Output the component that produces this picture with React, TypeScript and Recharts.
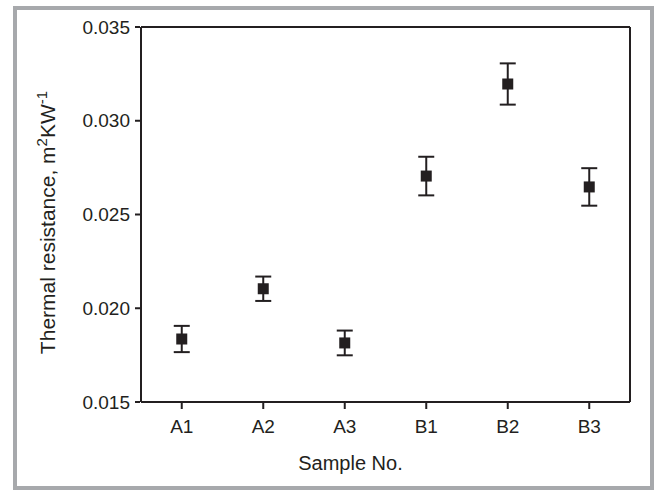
import React from 'react';
import { ScatterChart, Scatter, XAxis, YAxis, ErrorBar } from 'recharts';

const categories = ['A1', 'A2', 'A3', 'B1', 'B2', 'B3'];
const resistance = [0.01836, 0.02104, 0.01815, 0.02705, 0.03196, 0.02647];
const errors = [0.0007, 0.00065, 0.00066, 0.00103, 0.0011, 0.001];
const yMajorTicks = [0.015, 0.02, 0.025, 0.03, 0.035];
const yMinorTicks = [0.015, 0.0175, 0.02, 0.0225, 0.025, 0.0275, 0.03, 0.0325, 0.035];
const xMinorTicks = [0, 1, 2, 3, 4, 5, 6];
const yDomain: [number, number] = [0.015, 0.035];

const data = categories.map((name, i) => ({ name, pos: i + 0.5, value: resistance[i], err: errors[i] }));

const INK = '#231f20';
const FONT = '"Liberation Sans", Arial, sans-serif';

const Square = (props: any) => {
  const { cx, cy } = props;
  if (cx == null || cy == null) return null;
  return <rect x={cx - 5.5} y={cy - 5.5} width={11} height={11} fill={INK} />;
};

const Nothing = () => null;

const YLabel = (props: any) => {
  const vb = props.viewBox || { x: 0, y: 0, width: 0, height: 0 };
  const x = vb.x + 55;
  const y = vb.y + vb.height / 2 + 8;
  return (
    <text
      x={x}
      y={y}
      transform={`rotate(-90, ${x}, ${y})`}
      textAnchor="middle"
      fontSize={21}
      fontFamily={FONT}
      fill={INK}
    >
      Thermal resistance, m
      <tspan dy={-8} fontSize={15}>2</tspan>
      <tspan dy={8}>KW</tspan>
      <tspan dy={-8} fontSize={15}>-1</tspan>
    </text>
  );
};

const XLabel = (props: any) => {
  const vb = props.viewBox || { x: 0, y: 0, width: 0, height: 0 };
  const x = vb.x + vb.width / 2 - 35;
  const y = vb.y + vb.height - 20;
  return (
    <text x={x} y={y} textAnchor="middle" fontSize={20} fontFamily={FONT} fill={INK}>
      Sample No.
    </text>
  );
};

export default function App() {
  return (
    <div style={{ position: 'absolute', left: 0, top: 0, width: 654, height: 490, background: '#fff' }}>
      <div
        style={{
          position: 'absolute',
          left: 13,
          top: 6,
          width: 641,
          height: 484,
          border: '4px solid #a7a9ac',
          boxSizing: 'border-box',
          pointerEvents: 'none',
        }}
      />
      <div style={{ position: 'absolute', left: 0, top: 0 }}>
        <ScatterChart width={654} height={490} margin={{ top: 26, right: 23, left: 0, bottom: 0 }}>
          <XAxis
            xAxisId="a"
            dataKey="pos"
            type="number"
            domain={[0, 6]}
            ticks={xMinorTicks}
            tick={false}
            tickSize={4}
            height={1}
            stroke={INK}
            strokeWidth={2}
            allowDataOverflow
          />
          <XAxis
            xAxisId="b"
            dataKey="name"
            type="category"
            allowDuplicatedCategory={false}
            tickSize={6}
            tickMargin={11}
            height={87}
            axisLine={false}
            stroke={INK}
            strokeWidth={2}
            tick={{ fill: INK, fontSize: 19, fontFamily: FONT }}
            interval={0}
            label={<XLabel />}
          />
          <XAxis
            xAxisId="c"
            orientation="top"
            dataKey="name"
            type="category"
            allowDuplicatedCategory={false}
            height={1}
            tick={false}
            tickLine={false}
            stroke={INK}
            strokeWidth={2}
          />
          <YAxis
            yAxisId="a"
            dataKey="value"
            type="number"
            domain={yDomain}
            ticks={yMinorTicks}
            tick={false}
            tickSize={4}
            width={1}
            stroke={INK}
            strokeWidth={2}
            allowDataOverflow
          />
          <YAxis
            yAxisId="b"
            type="number"
            domain={yDomain}
            ticks={yMajorTicks}
            tickFormatter={(v: number) => v.toFixed(3)}
            tickSize={5}
            tickMargin={5}
            width={140}
            axisLine={false}
            stroke={INK}
            strokeWidth={2}
            tick={{ fill: INK, fontSize: 19, fontFamily: FONT }}
            allowDataOverflow
            label={<YLabel />}
          />
          <YAxis
            yAxisId="c"
            orientation="right"
            dataKey="value"
            type="number"
            domain={yDomain}
            width={1}
            tick={false}
            tickLine={false}
            stroke={INK}
            strokeWidth={2}
            allowDataOverflow
          />
          <Scatter
            data={data}
            dataKey="value"
            xAxisId="a"
            yAxisId="a"
            shape={<Nothing />}
            legendType="none"
            isAnimationActive={false}
          />
          <Scatter
            data={data}
            dataKey="value"
            xAxisId="c"
            yAxisId="c"
            shape={<Nothing />}
            legendType="none"
            isAnimationActive={false}
          />
          <Scatter
            data={data}
            dataKey="value"
            xAxisId="b"
            yAxisId="b"
            fill={INK}
            shape={<Square />}
            isAnimationActive={false}
          >
            <ErrorBar dataKey="err" direction="y" width={8} stroke={INK} strokeWidth={2} isAnimationActive={false} />
          </Scatter>
        </ScatterChart>
      </div>
    </div>
  );
}
